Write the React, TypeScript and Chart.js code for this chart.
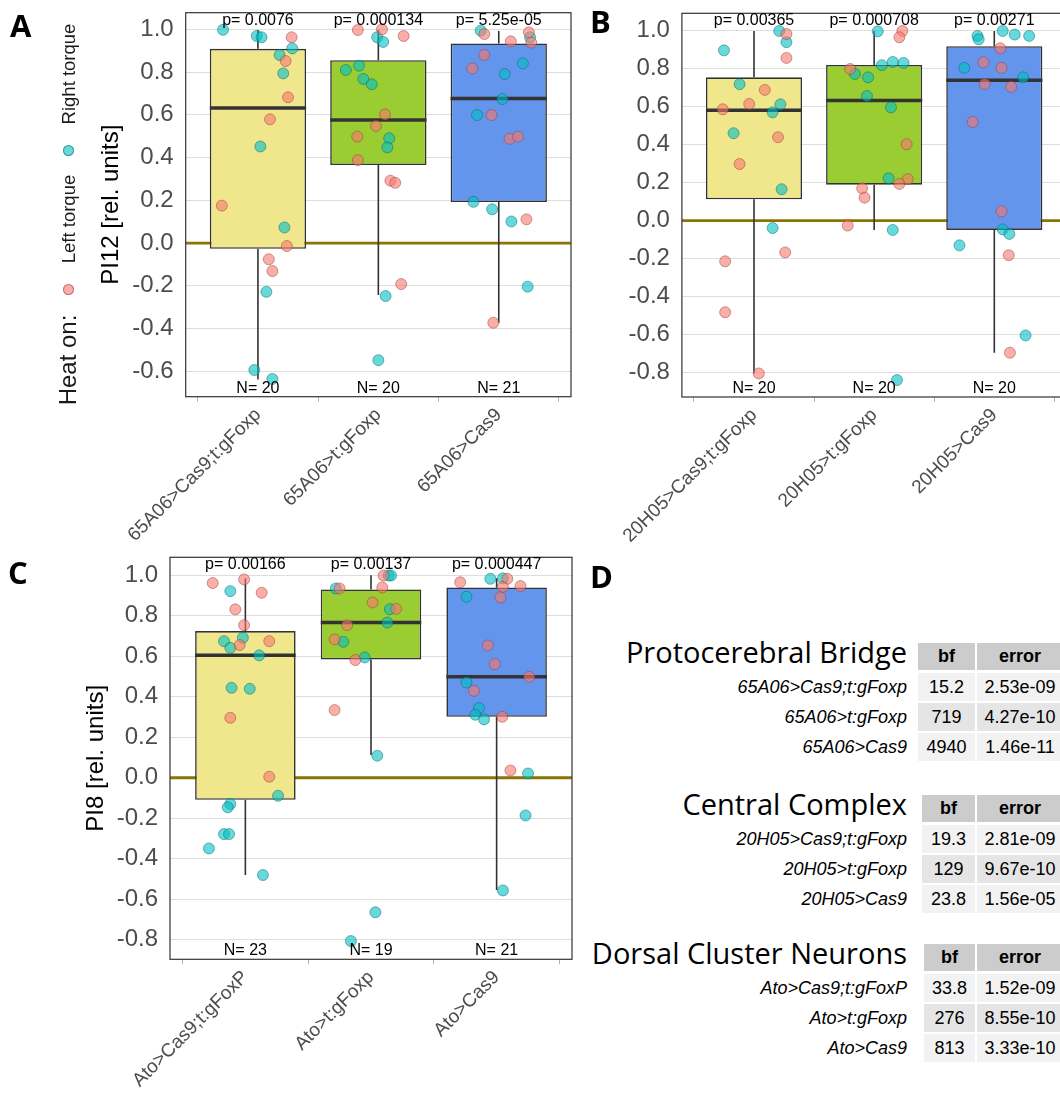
import React, { useEffect, useRef } from "react";
import { Chart, registerables } from "chart.js";

Chart.register(...registerables);

type Pt = [number, number];

const FONT = "'Liberation Sans', Arial, Helvetica, sans-serif";
const TITLE_FONT = "'Open Sans', 'Liberation Sans', sans-serif";

const PINK_FILL = "rgba(248,118,109,0.6)";
const PINK_EDGE = "rgba(150,60,55,0.6)";
const CYAN_FILL = "rgba(0,191,196,0.6)";
const CYAN_EDGE = "rgba(0,100,105,0.6)";
const BOX_COLORS = ["#F0E68C", "#9ACD32", "#6495ED"];

// ---------------- Panel A (PI12, Protocerebral Bridge) ----------------
const A_CATEGORIES = ["65A06>Cas9;t:gFoxp", "65A06>t:gFoxp", "65A06>Cas9"];
const A_Q1 = [-0.027, 0.365, 0.192];
const A_MEDIAN = [0.632, 0.576, 0.677];
const A_Q3 = [0.909, 0.856, 0.934];
const A_WHISKER_LOW = [-0.638, -0.243, -0.373];
const A_WHISKER_HIGH = [0.997, 0.997, 0.992];
const A_P_VALUES = ["0.0076", "0.000134", "5.25e-05"];
const A_COUNTS = [20, 20, 21];
const A_Y_TICKS = [-0.6, -0.4, -0.2, 0.0, 0.2, 0.4, 0.6, 0.8, 1.0];
const A_LEFT_TORQUE: Pt[] = [
  [0.28, 0.963], [0.23, 0.852], [0.25, 0.682], [0.10, 0.579], [-0.30, 0.175], [0.24, -0.014], [0.09, -0.076], [0.12, -0.131],
  [0.83, 0.997], [1.03, 1.0], [1.21, 0.969], [1.055, 0.602], [0.98, 0.548], [0.825, 0.498], [0.83, 0.388], [1.10, 0.292], [1.14, 0.282], [1.19, -0.192],
  [1.88, 0.978], [2.10, 0.944], [2.25, 0.986], [2.27, 0.938], [1.88, 0.88], [1.78, 0.817], [1.94, 0.599], [2.09, 0.488], [2.16, 0.498], [2.23, 0.111], [1.955, -0.373],
];
const A_RIGHT_TORQUE: Pt[] = [
  [-0.29, 0.998], [-0.01, 0.969], [0.03, 0.963], [0.285, 0.911], [0.18, 0.88], [0.21, 0.794], [0.02, 0.452], [0.22, 0.073], [0.07, -0.228], [-0.03, -0.594], [0.12, -0.636],
  [0.99, 0.963], [1.04, 0.941], [0.73, 0.81], [0.84, 0.83], [0.875, 0.768], [0.945, 0.743], [1.09, 0.49], [1.075, 0.448], [1.06, -0.248], [1.0, -0.548],
  [1.85, 0.994], [2.26, 0.963], [2.05, 0.791], [2.20, 0.841], [2.03, 0.674], [1.82, 0.599], [1.79, 0.193], [1.945, 0.158], [2.105, 0.101], [2.24, -0.204],
];

// ---------------- Panel B (PI12, Central Complex) ----------------
const B_CATEGORIES = ["20H05>Cas9;t:gFoxp", "20H05>t:gFoxp", "20H05>Cas9"];
const B_Q1 = [0.112, 0.189, -0.049];
const B_MEDIAN = [0.581, 0.632, 0.739];
const B_Q3 = [0.754, 0.819, 0.918];
const B_WHISKER_LOW = [-0.804, -0.049, -0.695];
const B_WHISKER_HIGH = [0.998, 0.998, 0.998];
const B_P_VALUES = ["0.00365", "0.000708", "0.00271"];
const B_COUNTS = [20, 20, 20];
const B_Y_TICKS = [-0.8, -0.6, -0.4, -0.2, 0.0, 0.2, 0.4, 0.6, 0.8, 1.0];
const B_LEFT_TORQUE: Pt[] = [
  [0.27, 0.982], [0.27, 0.856], [0.09, 0.688], [-0.04, 0.614], [-0.26, 0.586], [0.20, 0.439], [-0.12, 0.298], [0.26, -0.167], [-0.24, -0.214], [-0.24, -0.482], [0.04, -0.804],
  [1.235, 0.998], [1.21, 0.965], [0.80, 0.798], [1.27, 0.402], [1.28, 0.218], [1.21, 0.193], [0.90, 0.170], [0.92, 0.121], [0.78, -0.026],
  [2.05, 0.907], [1.91, 0.833], [2.06, 0.804], [1.92, 0.719], [2.14, 0.704], [1.82, 0.519], [2.06, 0.049], [2.12, -0.182], [2.13, -0.695],
];
const B_RIGHT_TORQUE: Pt[] = [
  [-0.25, 0.896], [0.21, 0.998], [0.27, 0.939], [-0.12, 0.718], [0.22, 0.612], [0.155, 0.570], [-0.17, 0.46], [0.23, 0.165], [0.155, -0.039],
  [1.03, 0.996], [0.84, 0.772], [0.95, 0.754], [1.064, 0.818], [1.155, 0.835], [1.245, 0.83], [0.94, 0.656], [1.14, 0.596], [1.12, 0.223], [1.155, -0.049], [1.19, -0.839],
  [1.86, 0.972], [1.87, 0.954], [2.07, 0.998], [2.17, 0.979], [2.29, 0.972], [1.75, 0.804], [2.24, 0.754], [2.07, -0.046], [2.125, -0.070], [1.71, -0.130], [2.26, -0.604],
];

// ---------------- Panel C (PI8, Dorsal Cluster Neurons) ----------------
const C_CATEGORIES = ["Ato>Cas9;t:gFoxP", "Ato>t:gFoxp", "Ato>Cas9"];
const C_Q1 = [-0.109, 0.584, 0.301];
const C_MEDIAN = [0.604, 0.766, 0.498];
const C_Q3 = [0.724, 0.929, 0.939];
const C_WHISKER_LOW = [-0.48, 0.112, -0.554];
const C_WHISKER_HIGH = [0.984, 1.0, 0.984];
const C_P_VALUES = ["0.00166", "0.00137", "0.000447"];
const C_COUNTS = [23, 19, 21];
const C_Y_TICKS = [-0.8, -0.6, -0.4, -0.2, 0.0, 0.2, 0.4, 0.6, 0.8, 1.0];
const C_LEFT_TORQUE: Pt[] = [
  [-0.26, 0.961], [-0.01, 0.979], [0.13, 0.913], [-0.08, 0.831], [-0.01, 0.753], [-0.045, 0.655], [0.19, 0.674], [-0.12, 0.296], [0.19, 0.005],
  [0.75, 0.934], [0.81, 0.753], [0.71, 0.683], [0.71, 0.334], [0.875, 0.581], [1.10, 0.998], [1.09, 0.939], [1.013, 0.865], [1.20, 0.834],
  [1.71, 0.965], [2.085, 0.982], [2.05, 0.942], [2.19, 0.946], [2.03, 0.890], [1.93, 0.653], [1.985, 0.561], [2.26, 0.498], [1.82, 0.429], [2.045, 0.301], [2.11, 0.036],
];
const C_RIGHT_TORQUE: Pt[] = [
  [-0.12, 0.921], [-0.17, 0.674], [-0.02, 0.691], [-0.12, 0.641], [0.11, 0.604], [-0.11, 0.444], [0.035, 0.439], [0.26, -0.089], [-0.12, -0.130], [-0.14, -0.146], [-0.17, -0.278], [-0.13, -0.278], [-0.29, -0.349], [0.14, -0.480],
  [0.72, 0.934], [0.78, 0.671], [0.84, -0.806], [1.14, 0.998], [1.16, 0.998], [1.15, 0.832], [1.13, 0.766], [0.95, 0.594], [1.05, 0.109], [1.035, -0.664],
  [1.95, 0.982], [2.05, 0.984], [1.76, 0.893], [1.76, 0.470], [1.86, 0.344], [1.83, 0.311], [1.90, 0.288], [2.25, 0.021], [2.23, -0.186], [2.05, -0.556],
];

// ---------------- Panel D (Bayes factor tables) ----------------
const PB_LINES = ["65A06>Cas9;t:gFoxp", "65A06>t:gFoxp", "65A06>Cas9"];
const PB_BF = ["15.2", "719", "4940"];
const PB_ERROR = ["2.53e-09", "4.27e-10", "1.46e-11"];
const CC_LINES = ["20H05>Cas9;t:gFoxp", "20H05>t:gFoxp", "20H05>Cas9"];
const CC_BF = ["19.3", "129", "23.8"];
const CC_ERROR = ["2.81e-09", "9.67e-10", "1.56e-05"];
const DC_LINES = ["Ato>Cas9;t:gFoxP", "Ato>t:gFoxp", "Ato>Cas9"];
const DC_BF = ["33.8", "276", "813"];
const DC_ERROR = ["1.52e-09", "8.55e-10", "3.33e-10"];

interface BoxPanelProps {
  categories: string[];
  q1: number[];
  median: number[];
  q3: number[];
  whiskerLow: number[];
  whiskerHigh: number[];
  pValues: string[];
  counts: number[];
  leftTorque: Pt[];
  rightTorque: Pt[];
  yMin: number;
  yMax: number;
  yTicks: number[];
  yTitle?: string;
  left: number;
  top: number;
  width: number;
  height: number;
  padTop: number;
  padRight: number;
  yAxisWidth: number;
  xAxisHeight: number;
  titleOffset: number;
}

function BoxPanel(p: BoxPanelProps) {
  const ref = useRef<HTMLCanvasElement | null>(null);
  useEffect(() => {
    const canvas = ref.current;
    if (!canvas) return;
    const n = p.categories.length;
    const xMin = -0.6;
    const xMax = n - 1 + 0.6;
    const datasets: any[] = [];
    datasets.push({
      type: "scatter",
      label: "Left torque",
      data: p.leftTorque.map(([x, y]) => ({ x, y })),
      backgroundColor: PINK_FILL,
      borderColor: PINK_EDGE,
      borderWidth: 0.8,
      pointRadius: 5.5,
      order: 0,
    });
    datasets.push({
      type: "scatter",
      label: "Right torque",
      data: p.rightTorque.map(([x, y]) => ({ x, y })),
      backgroundColor: CYAN_FILL,
      borderColor: CYAN_EDGE,
      borderWidth: 0.8,
      pointRadius: 5.5,
      order: 0,
    });
    for (let i = 0; i < n; i++) {
      datasets.push({
        type: "line",
        data: [
          { x: i - 0.4, y: p.median[i] },
          { x: i + 0.4, y: p.median[i] },
        ],
        borderColor: "#333333",
        borderWidth: 3.5,
        pointRadius: 0,
        fill: false,
        order: 1,
      });
    }
    datasets.push({
      type: "bar",
      data: p.categories.map((_, i) => ({ x: i, y: [p.q1[i], p.q3[i]] })),
      backgroundColor: BOX_COLORS,
      borderColor: "#333333",
      borderWidth: 1.6,
      borderSkipped: false,
      barPercentage: 0.8,
      categoryPercentage: 1.0,
      order: 2,
    });
    for (let i = 0; i < n; i++) {
      datasets.push({
        type: "line",
        data: [
          { x: i, y: p.q3[i] },
          { x: i, y: p.whiskerHigh[i] },
        ],
        borderColor: "#333333",
        borderWidth: 1.6,
        pointRadius: 0,
        fill: false,
        order: 3,
      });
      datasets.push({
        type: "line",
        data: [
          { x: i, y: p.whiskerLow[i] },
          { x: i, y: p.q1[i] },
        ],
        borderColor: "#333333",
        borderWidth: 1.6,
        pointRadius: 0,
        fill: false,
        order: 3,
      });
    }
    datasets.push({
      type: "line",
      data: [
        { x: xMin, y: 0 },
        { x: xMax, y: 0 },
      ],
      borderColor: "#8B7500",
      borderWidth: 2.8,
      pointRadius: 0,
      fill: false,
      order: 4,
    });

    const annotPlugin = {
      id: "boxAnnot",
      afterDatasetsDraw(chart: any) {
        const { ctx, chartArea } = chart;
        const xs = chart.scales.x;
        ctx.save();
        ctx.strokeStyle = "#333333";
        ctx.lineWidth = 1.2;
        ctx.strokeRect(chartArea.left, chartArea.top, chartArea.right - chartArea.left, chartArea.bottom - chartArea.top);
        ctx.fillStyle = "#000000";
        ctx.font = `16px ${FONT}`;
        ctx.textAlign = "center";
        ctx.textBaseline = "middle";
        p.pValues.forEach((pv, i) => {
          ctx.fillText(`p= ${pv}`, xs.getPixelForValue(i), chartArea.top + 7.5);
        });
        p.counts.forEach((c, i) => {
          ctx.fillText(`N= ${c}`, xs.getPixelForValue(i), chartArea.bottom - 8.5);
        });
        ctx.restore();
      },
    };

    const chart = new Chart(canvas, {
      type: "scatter",
      data: { datasets },
      options: {
        animation: false,
        responsive: false,
        maintainAspectRatio: false,
        events: [],
        layout: { autoPadding: false, padding: { top: p.padTop, right: p.padRight, left: 0, bottom: 0 } },
        plugins: { legend: { display: false }, tooltip: { enabled: false } },
        scales: {
          x: {
            type: "linear",
            min: xMin,
            max: xMax,
            offset: false,
            afterBuildTicks: (s: any) => {
              s.ticks = p.categories.map((_, i) => ({ value: i }));
            },
            afterFit: (s: any) => {
              s.height = p.xAxisHeight;
              s.paddingLeft = 0;
              s.paddingRight = 0;
              s.paddingTop = 0;
              s.paddingBottom = 0;
            },
            grid: { display: true, drawOnChartArea: false, drawTicks: true, tickLength: 5, color: "#B3B3B3", lineWidth: 1 },
            border: { display: false },
            ticks: {
              autoSkip: false,
              minRotation: 45,
              maxRotation: 45,
              padding: 2,
              color: "#4D4D4D",
              font: { size: 19, family: FONT },
              callback: (_v: any, i: number) => p.categories[i],
            },
          },
          y: {
            type: "linear",
            min: p.yMin,
            max: p.yMax,
            afterBuildTicks: (s: any) => {
              s.ticks = p.yTicks.map((v) => ({ value: v }));
            },
            afterFit: (s: any) => {
              s.width = p.yAxisWidth;
              s.paddingLeft = 0;
              s.paddingRight = 0;
              s.paddingTop = 0;
              s.paddingBottom = 0;
            },
            grid: { color: "#DEDEDE", lineWidth: 1, drawTicks: false },
            border: { display: false },
            ticks: {
              autoSkip: false,
              padding: 12,
              color: "#4D4D4D",
              font: { size: 24, family: FONT },
              callback: (v: any) => Number(v).toFixed(1),
            },
            title: {
              display: !!p.yTitle,
              text: p.yTitle || "",
              color: "#000000",
              font: { size: 24, family: FONT },
              padding: { top: p.titleOffset, bottom: 0 },
            },
          },
        },
      } as any,
      plugins: [annotPlugin],
    });
    return () => chart.destroy();
  }, []);
  return (
    <canvas
      ref={ref}
      width={p.width}
      height={p.height}
      style={{ position: "absolute", left: p.left, top: p.top, width: p.width, height: p.height }}
    />
  );
}

function RotText(props: { x: number; y: number; size: number; text: string }) {
  return (
    <div
      style={{
        position: "absolute",
        left: props.x,
        top: props.y,
        transform: "translate(-50%, -50%) rotate(-90deg)",
        whiteSpace: "nowrap",
        fontFamily: FONT,
        fontSize: props.size,
        lineHeight: 1,
        color: "#1A1A1A",
      }}
    >
      {props.text}
    </div>
  );
}

function Dot(props: { x: number; y: number; fill: string; edge: string }) {
  return (
    <div
      style={{
        position: "absolute",
        left: props.x - 5.5,
        top: props.y - 5.5,
        width: 11,
        height: 11,
        boxSizing: "border-box",
        borderRadius: "50%",
        background: props.fill,
        border: `0.8px solid ${props.edge}`,
      }}
    />
  );
}

function Letter(props: { x: number; y: number; text: string }) {
  return (
    <div
      style={{
        position: "absolute",
        left: props.x,
        top: props.y,
        fontFamily: TITLE_FONT,
        fontWeight: 700,
        fontSize: 31,
        lineHeight: 1,
        color: "#000",
      }}
    >
      {props.text}
    </div>
  );
}

function StatTable(props: { title: string; lines: string[]; bf: string[]; err: string[]; top: number; bfLeft: number }) {
  const T = props.top;
  const rightEdge = 907;
  const errLeft = 977;
  const errWidth = 86;
  const cells: React.ReactNode[] = [];
  cells.push(
    <div
      key="title"
      style={{
        position: "absolute",
        right: 1060 - rightEdge,
        top: T - 6,
        fontFamily: TITLE_FONT,
        fontSize: 29,
        lineHeight: 1,
        whiteSpace: "nowrap",
        color: "#000",
      }}
    >
      {props.title}
    </div>
  );
  const cellStyle = (left: number, top: number, w: number, h: number, bg: string, bold: boolean): React.CSSProperties => ({
    position: "absolute",
    left,
    top,
    width: w,
    height: h,
    background: bg,
    fontFamily: FONT,
    fontSize: 18,
    fontWeight: bold ? 700 : 400,
    lineHeight: `${h}px`,
    textAlign: "center",
    color: "#000",
  });
  cells.push(<div key="hbf" style={cellStyle(props.bfLeft, T, errLeft - 2 - props.bfLeft, 27, "#CCCCCC", true)}>bf</div>);
  cells.push(<div key="herr" style={cellStyle(errLeft, T, errWidth, 27, "#CCCCCC", true)}>error</div>);
  props.lines.forEach((ln, i) => {
    const top = T + 30 + 30 * i;
    const bg = i % 2 === 0 ? "#F2F2F2" : "#E5E5E5";
    cells.push(
      <div
        key={`l${i}`}
        style={{
          position: "absolute",
          right: 1060 - rightEdge,
          top,
          height: 28,
          lineHeight: "28px",
          fontFamily: FONT,
          fontStyle: "italic",
          fontSize: 18,
          whiteSpace: "nowrap",
          color: "#000",
        }}
      >
        {ln}
      </div>
    );
    cells.push(<div key={`b${i}`} style={cellStyle(props.bfLeft, top, errLeft - 2 - props.bfLeft, 28, bg, false)}>{props.bf[i]}</div>);
    cells.push(<div key={`e${i}`} style={cellStyle(errLeft, top, errWidth, 28, bg, false)}>{props.err[i]}</div>);
  });
  return <>{cells}</>;
}

export default function App() {
  return (
    <div
      style={{
        position: "absolute",
        left: 0,
        top: 0,
        width: 1060,
        height: 1094,
        overflow: "hidden",
        background: "#FFFFFF",
        fontFamily: FONT,
      }}
    >
      <BoxPanel
        categories={A_CATEGORIES}
        q1={A_Q1}
        median={A_MEDIAN}
        q3={A_Q3}
        whiskerLow={A_WHISKER_LOW}
        whiskerHigh={A_WHISKER_HIGH}
        pValues={A_P_VALUES}
        counts={A_COUNTS}
        leftTorque={A_LEFT_TORQUE}
        rightTorque={A_RIGHT_TORQUE}
        yMin={-0.719}
        yMax={1.078}
        yTicks={A_Y_TICKS}
        yTitle="PI12 [rel. units]"
        left={0}
        top={0}
        width={590}
        height={560}
        padTop={12.7}
        padRight={19}
        yAxisWidth={185.7}
        xAxisHeight={163.3}
        titleOffset={96.6}
      />
      <BoxPanel
        categories={B_CATEGORIES}
        q1={B_Q1}
        median={B_MEDIAN}
        q3={B_Q3}
        whiskerLow={B_WHISKER_LOW}
        whiskerHigh={B_WHISKER_HIGH}
        pValues={B_P_VALUES}
        counts={B_COUNTS}
        leftTorque={B_LEFT_TORQUE}
        rightTorque={B_RIGHT_TORQUE}
        yMin={-0.928}
        yMax={1.091}
        yTicks={B_Y_TICKS}
        left={590}
        top={0}
        width={490}
        height={560}
        padTop={13.3}
        padRight={13.6}
        yAxisWidth={91.9}
        xAxisHeight={163}
        titleOffset={0}
      />
      <BoxPanel
        categories={C_CATEGORIES}
        q1={C_Q1}
        median={C_MEDIAN}
        q3={C_Q3}
        whiskerLow={C_WHISKER_LOW}
        whiskerHigh={C_WHISKER_HIGH}
        pValues={C_P_VALUES}
        counts={C_COUNTS}
        leftTorque={C_LEFT_TORQUE}
        rightTorque={C_RIGHT_TORQUE}
        yMin={-0.896}
        yMax={1.088}
        yTicks={C_Y_TICKS}
        yTitle="PI8 [rel. units]"
        left={0}
        top={540}
        width={590}
        height={554}
        padTop={17.3}
        padRight={18}
        yAxisWidth={170}
        xAxisHeight={134.7}
        titleOffset={81.6}
      />

      <RotText x={68.6} y={73.5} size={18.5} text="Right torque" />
      <Dot x={68.3} y={150} fill={CYAN_FILL} edge={CYAN_EDGE} />
      <RotText x={68.6} y={219} size={18.5} text="Left torque" />
      <Dot x={68.3} y={289} fill={PINK_FILL} edge={PINK_EDGE} />
      <RotText x={68} y={360} size={24} text="Heat on:" />

      <Letter x={10} y={9.6} text="A" />
      <Letter x={590} y={6.3} text="B" />
      <Letter x={8} y={557} text="C" />
      <Letter x={590} y={561} text="D" />

      <StatTable title="Protocerebral Bridge" lines={PB_LINES} bf={PB_BF} err={PB_ERROR} top={643} bfLeft={918} />
      <StatTable title="Central Complex" lines={CC_LINES} bf={CC_BF} err={CC_ERROR} top={795} bfLeft={922} />
      <StatTable title="Dorsal Cluster Neurons" lines={DC_LINES} bf={DC_BF} err={DC_ERROR} top={944} bfLeft={924} />
    </div>
  );
}
